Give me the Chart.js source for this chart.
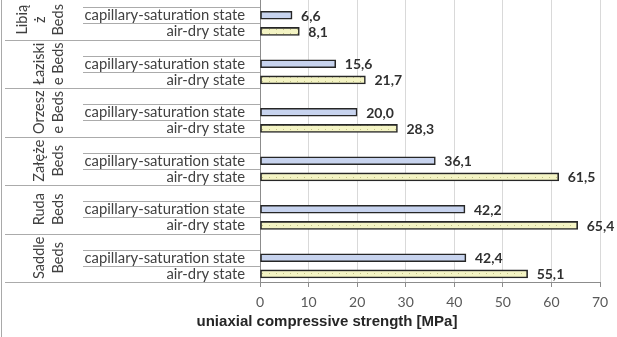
<!DOCTYPE html>
<html><head><meta charset="utf-8">
<script src="https://cdn.jsdelivr.net/npm/chart.js@4/dist/chart.umd.min.js"></script>
<style>
html,body{margin:0;padding:0;background:#fff;}
#wrap{position:relative;width:617px;height:337px;overflow:hidden;background:#fff;}
#wrap canvas{position:absolute;left:0;top:-9px;}
#frame{position:absolute;left:1px;top:0;width:1px;height:337px;background:#a9a9a9;}
</style></head><body>
<div id="wrap"><canvas id="c" width="617" height="346"></canvas><div id="frame"></div></div>
<script>
// Rock formations (wrapped the way they appear in the rotated group labels)
const groupLines = [['Libią', 'ż', 'Beds'], ['Łaziski', 'e Beds'], ['Orzesz', 'e Beds'], ['Załęże', 'Beds'], ['Ruda', 'Beds'], ['Saddle', 'Beds']];
const states = ['capillary-saturation state', 'air-dry state'];
// Uniaxial compressive strength, MPa
const capillary = [6.6, 15.6, 20.0, 36.1, 42.2, 42.4];
const airDry = [8.1, 21.7, 28.3, 61.5, 65.4, 55.1];
const xMin = 0, xMax = 70, xStep = 10;
const axisTitle = 'uniaxial compressive strength [MPa]';

const FONT = 'Lato, "Liberation Sans", sans-serif';
const CANVAS_SHIFT = 9; // canvas sits 9px above the visible frame

// each formation: a spacer slot, then the two moisture states
const labels = [];
const capData = [];
const airData = [];
groupLines.forEach((g, i) => {
  labels.push('', states[0], states[1]);
  capData.push(null, capillary[i], null);
  airData.push(null, null, airDry[i]);
});

function dottedFill() {
  const p = document.createElement('canvas');
  p.width = 7; p.height = 4;
  const g = p.getContext('2d');
  g.fillStyle = '#f4f4c4';
  g.fillRect(0, 0, 7, 4);
  g.fillStyle = '#c2c286';
  g.fillRect(3, 2, 1, 1);
  return g.createPattern(p, 'repeat');
}

const fmt = v => v.toFixed(1).replace('.', ',');

const decorations = {
  id: 'decorations',
  beforeDatasetsDraw(chart) {
    const ctx = chart.ctx;
    const ys = chart.scales.y;
    const left = chart.chartArea.left;
    ctx.save();
    ctx.strokeStyle = '#ababab';
    ctx.lineWidth = 1;
    for (let k = 0; k <= labels.length; k++) {
      const y = Math.round(ys.getPixelForValue(k - 0.5)) + 0.5;
      const x0 = (k % 3 === 0) ? 5 : 83;
      ctx.beginPath();
      ctx.moveTo(x0, y);
      ctx.lineTo(left, y);
      ctx.stroke();
    }
    // rotated formation names
    ctx.fillStyle = '#404040';
    ctx.font = '14.5px ' + FONT;
    ctx.textAlign = 'center';
    ctx.textBaseline = 'middle';
    groupLines.forEach((lines, gi) => {
      const top = Math.max(ys.getPixelForValue(gi * 3 - 0.5), CANVAS_SHIFT);
      const bot = ys.getPixelForValue(gi * 3 + 2.5);
      const cy = (top + bot) / 2;
      const n = lines.length;
      lines.forEach((t, li) => {
        const x = n === 3 ? 22 + li * 18 : 39 + li * 19;
        ctx.save();
        ctx.translate(x, cy);
        ctx.rotate(-Math.PI / 2);
        ctx.fillText(t, 0, 0);
        ctx.restore();
      });
    });
    ctx.restore();
  },
  afterDatasetsDraw(chart) {
    const ctx = chart.ctx;
    ctx.save();
    ctx.fillStyle = '#303030';
    ctx.font = 'bold 14px ' + FONT;
    ctx.textAlign = 'left';
    ctx.textBaseline = 'middle';
    chart.data.datasets.forEach((ds, di) => {
      chart.getDatasetMeta(di).data.forEach((el, i) => {
        const v = ds.data[i];
        if (v === null) return;
        ctx.fillText(fmt(v), el.x + 9, el.y + 1);
      });
    });
    // axis title
    ctx.fillStyle = '#262626';
    ctx.font = 'bold 15px "Liberation Sans", sans-serif';
    ctx.textAlign = 'center';
    ctx.fillText(axisTitle, 327, 322 + CANVAS_SHIFT);
    ctx.restore();
  }
};

new Chart(document.getElementById('c'), {
  type: 'bar',
  data: {
    labels: labels,
    datasets: [
      { label: states[0], data: capData, backgroundColor: '#c7d3ee' },
      { label: states[1], data: airData, backgroundColor: dottedFill() }
    ]
  },
  options: {
    indexAxis: 'y',
    responsive: false,
    animation: false,
    devicePixelRatio: 1,
    layout: { padding: { left: 0, right: 17, top: 0, bottom: 0 } },
    datasets: {
      bar: { grouped: false, barThickness: 8, borderWidth: 1.6, borderColor: '#262626', borderSkipped: false }
    },
    plugins: { legend: { display: false }, tooltip: { enabled: false } },
    scales: {
      x: {
        type: 'linear', min: xMin, max: xMax,
        ticks: { stepSize: xStep, color: '#595959', font: { family: FONT, size: 14 }, padding: 7 },
        grid: { color: '#d9d9d9', tickColor: '#8c8c8c', tickLength: 5 },
        border: { color: '#8c8c8c' },
        afterFit(s) { s.height = 55; s.paddingTop = 0; s.paddingBottom = 0; }
      },
      y: {
        type: 'category',
        ticks: { color: '#404040', font: { family: FONT, size: 14.8 }, padding: 15, autoSkip: false },
        grid: { display: false, drawTicks: false },
        border: { display: true, color: '#8c8c8c' },
        afterFit(s) { s.width = 260; s.paddingTop = 0; s.paddingBottom = 0; }
      }
    }
  },
  plugins: [decorations]
});
</script>
</body></html>
